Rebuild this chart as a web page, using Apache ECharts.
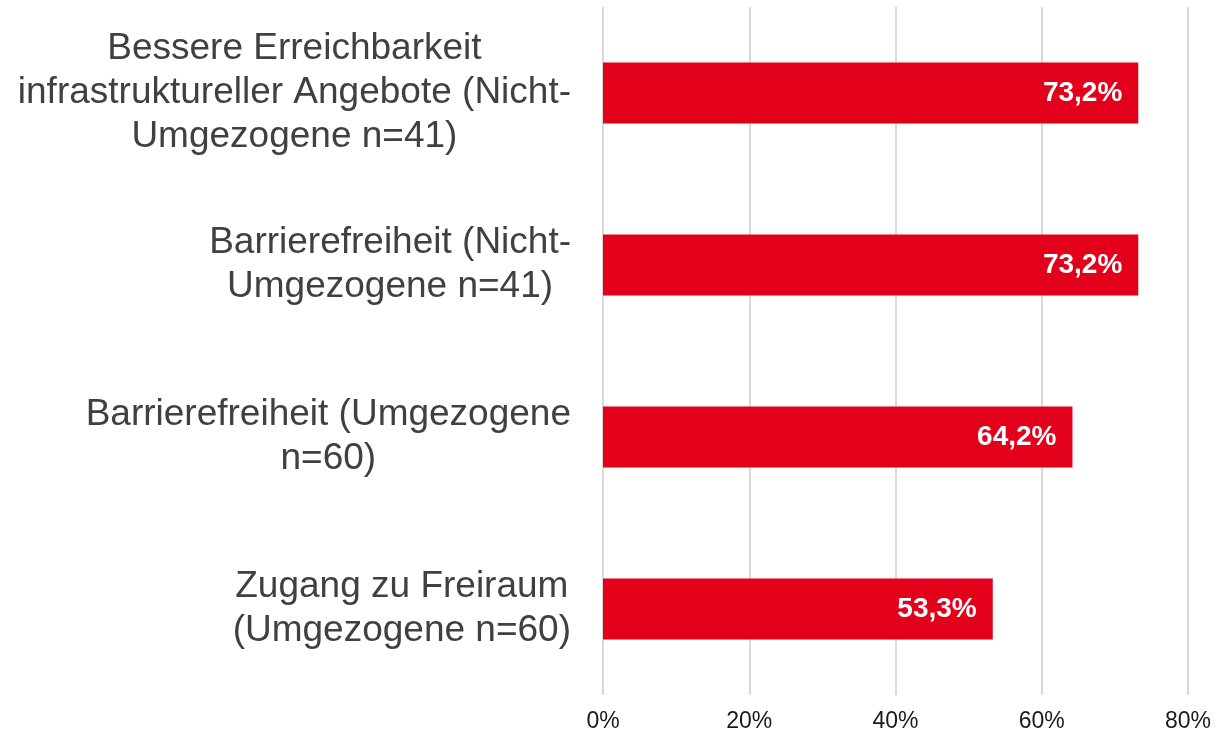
<!DOCTYPE html>
<html>
<head>
<meta charset="utf-8">
<script src="https://cdn.jsdelivr.net/npm/echarts@6/dist/echarts.min.js"></script>
<style>
html,body{margin:0;padding:0;background:#fff;}
#chart{width:1216px;height:735px;}
</style>
</head>
<body>
<div id="chart"></div>
<script>
const categories = [
  "Bessere Erreichbarkeit\ninfrastruktureller Angebote (Nicht-\nUmgezogene n=41)",
  "Barrierefreiheit (Nicht-\nUmgezogene n=41)",
  "Barrierefreiheit (Umgezogene\nn=60)",
  "Zugang zu Freiraum\n(Umgezogene n=60)"
];
const values = [73.2, 73.2, 64.2, 53.3];
const xTicks = [0, 20, 40, 60, 80];

const chart = echarts.init(document.getElementById('chart'));
chart.setOption({
  animation: false,
  backgroundColor: '#ffffff',
  grid: { left: 603, right: 28, top: 7, bottom: 40, containLabel: false },
  xAxis: {
    type: 'value',
    min: xTicks[0],
    max: xTicks[xTicks.length - 1],
    interval: 20,
    axisLine: { show: false },
    axisTick: { show: false },
    splitLine: { show: true, lineStyle: { color: '#d9d9d9', width: 2 } },
    axisLabel: {
      margin: 15,
      fontFamily: 'Liberation Sans, Arial, sans-serif',
      fontSize: 23,
      color: '#1a1a1a',
      formatter: v => v + '%'
    }
  },
  yAxis: {
    type: 'category',
    inverse: true,
    data: categories,
    axisLine: { show: false },
    axisTick: { show: false },
    splitLine: { show: false },
    axisLabel: {
      margin: 32,
      align: 'right',
      fontFamily: 'Liberation Sans, Arial, sans-serif',
      fontSize: 37,
      lineHeight: 44,
      color: '#404040',
      formatter: v => v.split('\n').map(s => '{c|' + s + '}').join('\n'),
      rich: {
        c: {
          align: 'center',
          fontFamily: 'Liberation Sans, Arial, sans-serif',
          fontSize: 37,
          lineHeight: 44,
          color: '#404040'
        }
      }
    }
  },
  series: [{
    type: 'bar',
    data: values,
    barWidth: 61,
    itemStyle: { color: '#e2001a' },
    label: {
      show: true,
      position: 'insideRight',
      distance: 16,
      color: '#ffffff',
      fontFamily: 'Liberation Sans, Arial, sans-serif',
      fontWeight: 'bold',
      fontSize: 28,
      formatter: p => p.value.toFixed(1).replace('.', ',') + '%'
    }
  }]
});
</script>
</body>
</html>
